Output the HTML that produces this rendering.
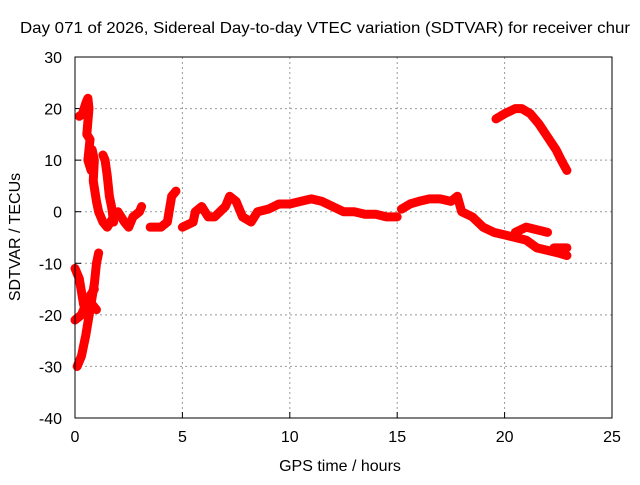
<!DOCTYPE html>
<html><head><meta charset="utf-8"><style>
body{margin:0;background:#fff;font-family:"Liberation Sans",sans-serif}
svg text{font-family:"Liberation Sans",sans-serif;font-size:16px;fill:#000}
</style></head><body>
<svg id="chart" width="640" height="480" xmlns="http://www.w3.org/2000/svg">
<rect width="640" height="480" fill="#fff"/>
<text x="20" y="33" textLength="610" lengthAdjust="spacingAndGlyphs">Day 071 of 2026, Sidereal Day-to-day VTEC variation (SDTVAR) for receiver chur</text>
<text x="340" y="471" text-anchor="middle">GPS time / hours</text>
<text transform="translate(20,237) rotate(-90)" text-anchor="middle">SDTVAR / TECUs</text>
<g id="grid"></g><g id="marks"></g>
<rect x="75" y="57" width="537" height="361" fill="none" stroke="#000" stroke-width="1"/>
</svg>
<script>
const xTicks=[0,5,10,15,20,25];
const yTicks=[30,20,10,0,-10,-20,-30,-40];
const trackUpperSpike=[[0.2,18.5],[0.35,19],[0.5,21],[0.6,22],[0.65,20],[0.55,15],[0.7,14],[0.6,10],[0.75,8],[0.8,12],[0.9,10],[0.85,6],[1.0,2],[1.1,0],[1.3,-2],[1.5,-3],[1.8,-1],[2.0,0],[2.3,-2],[2.5,-3],[2.7,-1],[3.0,0],[3.1,1]];
const trackSecond=[[1.3,11],[1.4,10],[1.5,7],[1.6,3],[1.7,1],[1.8,-2]];
const trackLowA=[[0.1,-30],[0.3,-28],[0.5,-24],[0.7,-19],[0.9,-14],[1.0,-10],[1.1,-8]];
const trackLowB=[[0.0,-11],[0.2,-13],[0.4,-18],[0.6,-19],[0.8,-18],[1.0,-19]];
const trackLowC=[[0.0,-21],[0.3,-20],[0.6,-17],[0.9,-15]];
const trackMid=[[3.5,-3],[4,-3],[4.3,-2],[4.5,3],[4.7,4]];
const trackMid2=[[5,-3],[5.5,-2],[5.6,0],[5.9,1],[6.2,-1],[6.5,-1],[7,1],[7.2,3],[7.5,2],[7.8,-1],[8.2,-2],[8.5,0],[9,0.5],[9.5,1.5],[10,1.5],[10.5,2],[11,2.5],[11.5,2],[12,1],[12.5,0],[13,0],[13.5,-0.5],[14,-0.5],[14.5,-1],[15,-1]];
const trackLate=[[15.2,0.5],[15.6,1.5],[16,2],[16.5,2.5],[17,2.5],[17.5,2],[17.8,3],[18,0],[18.5,-1],[19,-3],[19.5,-4],[20,-4.5],[20.5,-5],[21,-5.5],[21.5,-7],[22,-7.5],[22.5,-8],[22.9,-8.5]];
const trackBranch=[[20.5,-4],[21,-3],[21.5,-3.5],[22,-4]];
const trackBranch2=[[22.3,-7],[22.9,-7]];
const trackUpperRight=[[19.6,18],[20,19],[20.5,20],[20.8,20],[21.2,19],[21.6,17],[22,14.5],[22.4,12],[22.7,9.5],[22.9,8]];
const tracks=[trackUpperSpike,trackSecond,trackLowA,trackLowB,trackLowC,trackMid,trackMid2,trackLate,trackBranch,trackBranch2,trackUpperRight];
const X=h=>75+h/25*537, Y=v=>57+(30-v)/70*361;
const NS="http://www.w3.org/2000/svg";
const svg=document.getElementById('chart'),grid=document.getElementById('grid'),marks=document.getElementById('marks');
function mk(t,a,p){const e=document.createElementNS(NS,t);for(const k in a)e.setAttribute(k,a[k]);p.appendChild(e);return e;}
xTicks.forEach(t=>{const x=X(t);
 if(t>0&&t<25){const g=mk('line',{x1:x,x2:x,y1:57,y2:418,stroke:'#999','stroke-dasharray':'2,3'},grid);
 
 }
 const tk=mk('line',{x1:x,x2:x,y1:418,y2:412,stroke:'#000'},grid);
 
 
 const l=mk('text',{x:x,y:442,'text-anchor':'middle'},grid);l.textContent=t;
 
 });
yTicks.forEach(t=>{const y=Y(t);
 if(t<30&&t>-40){const g=mk('line',{x1:75,x2:612,y1:y,y2:y,stroke:'#999','stroke-dasharray':'2,3'},grid);
 
 }
 const tk=mk('line',{x1:75,x2:81,y1:y,y2:y,stroke:'#000'},grid);
 
 
 const l=mk('text',{x:62,y:y+6,'text-anchor':'end'},grid);l.textContent=t;
 
 });
tracks.forEach(tr=>{
 const pl=mk('polyline',{points:tr.map(p=>X(p[0])+','+Y(p[1])).join(' '),fill:'none',stroke:'#f00','stroke-width':9,'stroke-linejoin':'round','stroke-linecap':'round'},marks);
 
 
 tr.forEach(p=>{const x=X(p[0]),y=Y(p[1]);
  const m=mk('path',{d:`M${x-4},${y}H${x+4}M${x},${y-4}V${y+4}`,stroke:'#f00','stroke-width':1.5},marks);
  
  });
});
</script>
</body></html>
